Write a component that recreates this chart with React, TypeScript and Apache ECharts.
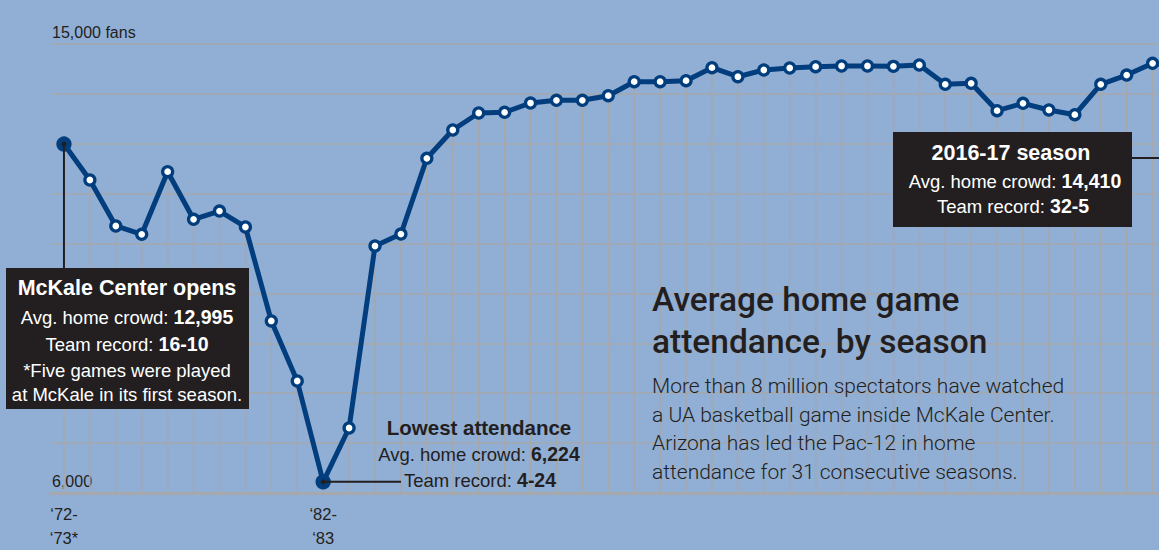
import React, { useEffect, useRef } from "react";
import * as echarts from "echarts";

const seasons = [
  "1972-73", "1973-74", "1974-75", "1975-76", "1976-77", "1977-78", "1978-79", "1979-80",
  "1980-81", "1981-82", "1982-83", "1983-84", "1984-85", "1985-86", "1986-87", "1987-88",
  "1988-89", "1989-90", "1990-91", "1991-92", "1992-93", "1993-94", "1994-95", "1995-96",
  "1996-97", "1997-98", "1998-99", "1999-00", "2000-01", "2001-02", "2002-03", "2003-04",
  "2004-05", "2005-06", "2006-07", "2007-08", "2008-09", "2009-10", "2010-11", "2011-12",
  "2012-13", "2013-14", "2014-15", "2015-16", "2016-17",
];

const attendance = [
  12995, 12274, 11352, 11185, 12440, 11486, 11652, 11332, 9448, 8245,
  6224, 7303, 10951, 11191, 12709, 13276, 13617, 13631, 13817, 13871,
  13871, 13964, 14244, 14244, 14264, 14525, 14344, 14479, 14519, 14545,
  14559, 14559, 14552, 14579, 14192, 14212, 13663, 13811, 13677, 13583,
  14192, 14378, 14613, 14559, 14410,
];

const labeledSeasons = ["1972-73", "1982-83"];
const labeledSeasonTexts = ["\u201872-\n\u201873*", "\u201882-\n\u201883"];
const highlightSeasons = ["1972-73", "1982-83"];

const yMin = 6000;
const yMax = 15000;
const yStep = 1000;

const BG = "#91aed4";
const NAVY = "#023e7d";
const GRID = "#a6a8ac";
const INK = "#231f20";
const SANS = "'Liberation Sans', Arial, sans-serif";

export default function App() {
  const ref = useRef<HTMLDivElement>(null);

  useEffect(() => {
    if (!ref.current) return;
    const chart = echarts.init(ref.current, undefined, { renderer: "svg" });

    const lineData = attendance.map((v, i) =>
      highlightSeasons.includes(seasons[i])
        ? { value: v, symbolSize: 12, itemStyle: { color: NAVY, borderColor: NAVY } }
        : v
    );

    chart.setOption({
      animation: false,
      backgroundColor: BG,
      grid: { left: 51, top: 44, height: 449, width: seasons.length * 25.92 },
      xAxis: {
        type: "category",
        data: seasons,
        boundaryGap: true,
        axisLine: { show: true, lineStyle: { color: GRID, width: 3 } },
        axisTick: { show: false },
        splitLine: { show: false },
        axisLabel: {
          interval: 0,
          margin: 9,
          fontFamily: SANS,
          fontSize: 16.5,
          lineHeight: 24,
          color: INK,
          formatter: (v: string) => {
            const k = labeledSeasons.indexOf(v);
            return k >= 0 ? labeledSeasonTexts[k] : "";
          },
        },
      },
      yAxis: {
        type: "value",
        min: yMin,
        max: yMax,
        interval: yStep,
        axisLine: { show: false },
        axisTick: { show: false },
        splitLine: { show: true, lineStyle: { color: GRID, width: 1.5 } },
        axisLabel: {
          inside: true,
          margin: 1,
          align: "left",
          verticalAlign: "bottom",
          padding: [0, 0, 4, 0],
          fontFamily: SANS,
          fontSize: 16,
          color: INK,
          formatter: (v: number) =>
            v === yMax ? "15,000 fans" : v === yMin ? "6,000" : "",
        },
      },
      series: [
        {
          type: "bar",
          data: attendance,
          barWidth: 1.5,
          silent: true,
          itemStyle: { color: GRID },
          z: 1,
        },
        {
          type: "line",
          data: lineData,
          symbol: "circle",
          symbolSize: 10,
          lineStyle: { color: NAVY, width: 5 },
          itemStyle: { color: "#ffffff", borderColor: NAVY, borderWidth: 3.3 },
          z: 3,
        },
      ],
    });

    const px = (name: string) => {
      const i = seasons.indexOf(name);
      return chart.convertToPixel({ xAxisIndex: 0, yAxisIndex: 0 }, [i, attendance[i]]) as number[];
    };
    const p0 = px("1972-73");
    const p10 = px("1982-83");
    const p44 = px("2016-17");

    const reg = { fontFamily: SANS, fontSize: 18.5, fill: "#ffffff" };
    const bold = { fontFamily: SANS, fontWeight: "bold", fontSize: 19.5, fill: "#ffffff" };
    const regDark = { ...reg, fill: INK };
    const boldDark = { ...bold, fill: INK };

    const txt = (x: number, y: number, text: string, rich: any, align = "center") => ({
      type: "text",
      x,
      y,
      z: 101,
      style: { text, rich, align, verticalAlign: "middle" },
    });

    const richW = { r: reg, b: bold, h: { ...bold, fontSize: 21.5 } };
    const richD = { r: regDark, b: boldDark, h: { ...boldDark, fontSize: 20.5 } };

    const title = { fontFamily: "Roboto", fontWeight: 500, fontSize: 33.5, fill: INK, verticalAlign: "middle" };
    const body = { fontFamily: "Roboto", fontWeight: 300, fontSize: 21, fill: INK, verticalAlign: "middle" };

    chart.setOption({
      graphic: [
        // McKale opening connector
        { type: "line", z: 100, shape: { x1: p0[0], y1: p0[1], x2: p0[0], y2: 268 }, style: { stroke: INK, lineWidth: 2 } },
        { type: "circle", z: 100, shape: { cx: p0[0], cy: p0[1], r: 2.5 }, style: { fill: INK } },
        { type: "rect", z: 100, shape: { x: 6, y: 268, width: 243, height: 141 }, style: { fill: INK } },
        txt(127, 288, "{h|McKale Center opens}", richW),
        txt(127, 317, "{r|Avg. home crowd: }{b|12,995}", richW),
        txt(127, 344, "{r|Team record: }{b|16-10}", richW),
        txt(127, 370, "{r|*Five games were played}", richW),
        txt(127, 394, "{r|at McKale in its first season.}", richW),

        // Lowest attendance
        { type: "line", z: 100, shape: { x1: p10[0], y1: p10[1], x2: 401, y2: p10[1] }, style: { stroke: INK, lineWidth: 2 } },
        { type: "circle", z: 100, shape: { cx: p10[0], cy: p10[1], r: 2.5 }, style: { fill: INK } },
        txt(479, 427, "{h|Lowest attendance}", richD),
        txt(479, 454, "{r|Avg. home crowd: }{b|6,224}", richD),
        txt(480, 480, "{r|Team record: }{b|4-24}", richD),

        // 2016-17 season
        {
          type: "polyline",
          z: 100,
          shape: { points: [[1132, 158], [p44[0], 158], [p44[0], p44[1]]] },
          style: { stroke: INK, lineWidth: 2, fill: "none" },
        },
        { type: "rect", z: 100, shape: { x: 893, y: 132, width: 239, height: 95 }, style: { fill: INK } },
        txt(1011, 153, "{h|2016-17 season}", richW),
        txt(1015, 181, "{r|Avg. home crowd: }{b|14,410}", richW),
        txt(1013, 206, "{r|Team record: }{b|32-5}", richW),

        // Title and description
        { type: "text", x: 652, y: 299, z: 101, style: { ...title, text: "Average home game" } },
        { type: "text", x: 652, y: 341, z: 101, style: { ...title, text: "attendance, by season" } },
        { type: "text", x: 652, y: 386, z: 101, style: { ...body, text: "More than 8 million spectators have watched" } },
        { type: "text", x: 652, y: 414.5, z: 101, style: { ...body, text: "a UA basketball game inside McKale Center." } },
        { type: "text", x: 652, y: 443, z: 101, style: { ...body, text: "Arizona has led the Pac-12 in home" } },
        { type: "text", x: 652, y: 471.5, z: 101, style: { ...body, text: "attendance for 31 consecutive seasons." } },
      ],
    });

    return () => chart.dispose();
  }, []);

  return (
    <div style={{ position: "fixed", left: 0, top: 0, width: 1159, height: 550, overflow: "hidden", background: BG }}>
      <div ref={ref} style={{ width: 1230, height: 550 }} />
    </div>
  );
}
